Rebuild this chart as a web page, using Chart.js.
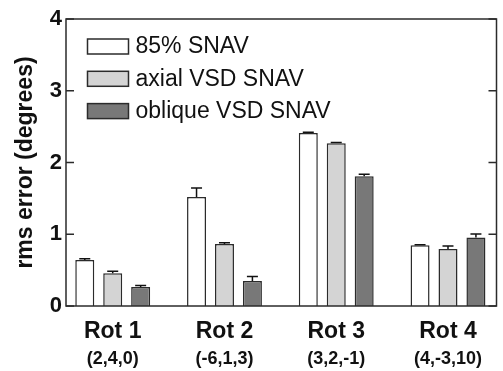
<!DOCTYPE html>
<html>
<head>
<meta charset="utf-8">
<script src="https://cdn.jsdelivr.net/npm/chart.js@4"></script>
<style>
    html, body { margin: 0; padding: 0; background: #fff; }
    #wrap { width: 503px; height: 371px; }
</style>
</head>
<body>
<div id="wrap"><canvas id="rmsChart"></canvas></div>
<script>
// rotation groups and their axis coordinates
const rotNames = ['Rot 1', 'Rot 2', 'Rot 3', 'Rot 4'];
const rotAxes = ['(2,4,0)', '(-6,1,3)', '(3,2,-1)', '(4,-3,10)'];
const seriesNames = ['85% SNAV', 'axial VSD SNAV', 'oblique VSD SNAV'];

// rms error values (degrees) and upper error bar size
const snav85 = [0.64, 1.52, 2.41, 0.845];
const snav85Err = [0.02, 0.125, 0.01, 0.01];
const axialVsd = [0.455, 0.865, 2.27, 0.795];
const axialVsdErr = [0.03, 0.015, 0.01, 0.04];
const obliqueVsd = [0.265, 0.35, 1.81, 0.955];
const obliqueVsdErr = [0.02, 0.06, 0.025, 0.05];

const yTicks = [0, 1, 2, 3, 4];

const FONT = "'Liberation Sans', Arial, sans-serif";
const EDGE = '#2b2b2b';
const fills = ['#ffffff', '#d4d4d4', '#787878'];

const toPoints = (vals) => vals.map((v, i) => ({ x: i + 1, y: v }));
const groupTicks = (scale) => {
    scale.ticks = rotNames.map((n, i) => ({ value: i + 1 }));
};

// frame round the plot plus inward ticks on both sides
const framePlugin = {
    id: 'frame',
    afterDraw(chart) {
        const { ctx, chartArea: a, scales } = chart;
        ctx.save();
        ctx.strokeStyle = EDGE;
        ctx.lineWidth = 1.5;
        ctx.strokeRect(a.left, a.top, a.right - a.left, a.bottom - a.top);
        for (const t of yTicks) {
            const y = scales.y.getPixelForValue(t);
            ctx.beginPath();
            ctx.moveTo(a.left, y);
            ctx.lineTo(a.left + 8, y);
            ctx.moveTo(a.right, y);
            ctx.lineTo(a.right - 8, y);
            ctx.stroke();
        }
        ctx.restore();
    }
};

// upper error bars on top of each bar
const errorPlugin = {
    id: 'errorBars',
    afterDatasetsDraw(chart) {
        const { ctx, scales } = chart;
        ctx.save();
        ctx.strokeStyle = '#111';
        ctx.lineWidth = 1.5;
        chart.data.datasets.forEach((ds, di) => {
            const meta = chart.getDatasetMeta(di);
            meta.data.forEach((bar, i) => {
                const top = scales.y.getPixelForValue(ds.data[i].y + ds.errors[i]);
                ctx.beginPath();
                ctx.moveTo(bar.x, bar.y);
                ctx.lineTo(bar.x, top);
                ctx.moveTo(bar.x - 5.5, top);
                ctx.lineTo(bar.x + 5.5, top);
                ctx.stroke();
            });
        });
        ctx.restore();
    }
};

// legend inside the plot, top left
const legendPlugin = {
    id: 'insideLegend',
    afterDraw(chart) {
        const { ctx, chartArea: a } = chart;
        ctx.save();
        ctx.font = '23px ' + FONT;
        ctx.textBaseline = 'middle';
        chart.data.datasets.forEach((ds, i) => {
            const x = a.left + 21.5;
            const y = a.top + 20 + i * 32.3;
            ctx.fillStyle = ds.backgroundColor;
            ctx.fillRect(x, y, 41, 15);
            ctx.strokeStyle = EDGE;
            ctx.lineWidth = 1.5;
            ctx.strokeRect(x, y, 41, 15);
            ctx.fillStyle = '#111';
            ctx.fillText(ds.label, x + 48, y + 8);
        });
        ctx.restore();
    }
};

const ctx = document.getElementById('rmsChart').getContext('2d');
const rmsChart = new Chart(ctx, { // eslint-disable-line
    type: 'bar',
    data: {
        datasets: [{
            label: seriesNames[0],
            data: toPoints(snav85),
            errors: snav85Err,
            backgroundColor: fills[0]
        },
        {
            label: seriesNames[1],
            data: toPoints(axialVsd),
            errors: axialVsdErr,
            backgroundColor: fills[1]
        },
        {
            label: seriesNames[2],
            data: toPoints(obliqueVsd),
            errors: obliqueVsdErr,
            backgroundColor: fills[2]
        }]
    },
    options: {
        responsive: true,
        maintainAspectRatio: false,
        animation: false,
        devicePixelRatio: 1,
        layout: {
            padding: { left: 0, top: 19, right: 6.5, bottom: 0 }
        },
        datasets: {
            bar: {
                borderColor: EDGE,
                borderWidth: 1.5,
                categoryPercentage: 0.75,
                barPercentage: 0.68
            }
        },
        plugins: {
            legend: { display: false },
            tooltip: { enabled: false }
        },
        scales: {
            x: {
                type: 'linear',
                offset: false,
                min: 0.582,
                max: 4.434,
                weight: 0,
                afterBuildTicks: groupTicks,
                afterFit: (s) => { s.height = 40; },
                grid: { display: false, drawTicks: false },
                border: { display: false },
                ticks: {
                    padding: 12,
                    color: '#111',
                    font: { family: FONT, size: 23, weight: 'bold' },
                    callback: (v) => rotNames[v - 1]
                }
            },
            x2: {
                type: 'linear',
                position: 'bottom',
                offset: false,
                min: 0.582,
                max: 4.434,
                weight: 1,
                afterBuildTicks: groupTicks,
                afterFit: (s) => { s.height = 25; },
                grid: { display: false, drawTicks: false },
                border: { display: false },
                ticks: {
                    padding: 2,
                    color: '#111',
                    font: { family: FONT, size: 18, weight: 'bold' },
                    callback: (v) => rotAxes[v - 1]
                }
            },
            y: {
                min: 0,
                max: 4,
                afterFit: (s) => { s.width = 66; },
                grid: { display: false, drawTicks: false },
                border: { display: false },
                ticks: {
                    stepSize: 1,
                    padding: 4,
                    color: '#111',
                    font: { family: FONT, size: 22, weight: 'bold' }
                },
                title: {
                    display: true,
                    text: 'rms error (degrees)',
                    color: '#111',
                    padding: { top: 12, bottom: 0 },
                    font: { family: FONT, size: 23, weight: 'bold' }
                }
            }
        }
    },
    plugins: [errorPlugin, framePlugin, legendPlugin]
});
</script>
</body>
</html>
